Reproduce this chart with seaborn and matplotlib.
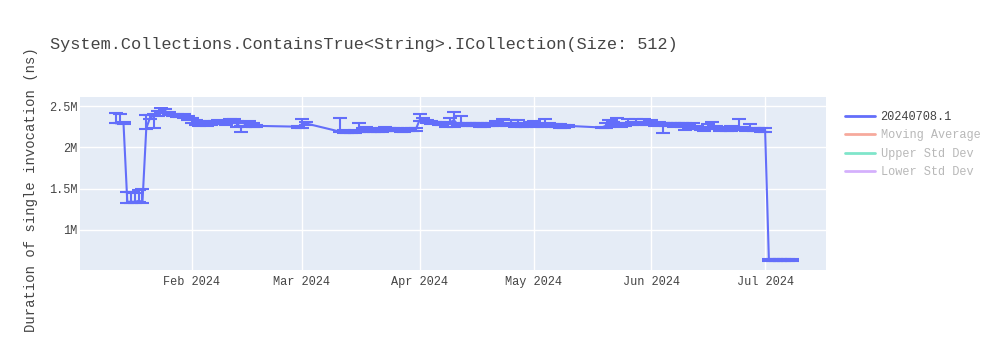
import numpy as np
import pandas as pd
import matplotlib
matplotlib.use("Agg")
import matplotlib.pyplot as plt
import matplotlib.dates as mdates
from matplotlib.ticker import FixedLocator
from matplotlib.lines import Line2D
import seaborn as sns

# ---------------- data (values in millions of ns) ----------------
jan_days = [12, 13, 14, 15, 16, 17, 18, 19, 20, 21, 22, 23, 24, 25, 26, 27, 28, 29, 30, 31]
feb_days = [1, 2, 3, 4, 5, 6, 7, 8, 9, 10, 11, 12, 13, 14, 15, 16, 17, 18, 29]
mar_days = [1, 2, 11, 12, 13, 14, 15, 16, 17, 18, 19, 20, 21, 22, 23, 24, 25, 26, 27, 28, 29, 30, 31]
apr_days = [1, 2, 3, 4, 5, 6, 7, 8, 9, 10, 11, 12, 13, 14, 15, 16, 17, 18, 19, 20, 21, 22, 23, 24, 25, 26, 27, 28, 29, 30]
may_days = [1, 2, 3, 4, 5, 6, 7, 8, 9, 10, 19, 20, 21, 22, 23, 24, 25, 26, 27, 28, 29, 30, 31]
jun_days = [1, 2, 3, 4, 5, 6, 7, 8, 9, 10, 11, 12, 13, 14, 15, 16, 17, 18, 19, 20, 21, 22, 23, 24, 25, 26, 27, 28, 29, 30]
jul_days = [1, 2, 3, 4, 5, 6, 7, 8]

jan_vals = [2.29, 2.30, 2.29, 1.34, 1.34, 1.34, 1.35, 1.34, 2.23, 2.36, 2.38, 2.40, 2.44, 2.44, 2.41, 2.39, 2.38, 2.38, 2.38, 2.36]
feb_vals = [2.33, 2.30, 2.28, 2.29, 2.28, 2.29, 2.30, 2.31, 2.30, 2.29, 2.32, 2.32, 2.28, 2.24, 2.27, 2.28, 2.27, 2.26, 2.25]
mar_vals = [2.28, 2.29, 2.19, 2.19, 2.18, 2.18, 2.19, 2.20, 2.21, 2.23, 2.22, 2.20, 2.19, 2.21, 2.22, 2.21, 2.22, 2.21, 2.20, 2.20, 2.21, 2.22, 2.22]
apr_vals = [2.33, 2.34, 2.31, 2.30, 2.30, 2.29, 2.29, 2.27, 2.30, 2.33, 2.28, 2.30, 2.27, 2.28, 2.28, 2.28, 2.27, 2.26, 2.28, 2.28, 2.29, 2.28, 2.29, 2.28, 2.29, 2.28, 2.29, 2.27, 2.26, 2.28]
may_vals = [2.29, 2.27, 2.26, 2.27, 2.28, 2.26, 2.26, 2.26, 2.25, 2.26, 2.24, 2.26, 2.27, 2.29, 2.30, 2.27, 2.28, 2.30, 2.29, 2.31, 2.29, 2.30, 2.29]
jun_vals = [2.30, 2.28, 2.29, 2.27, 2.28, 2.28, 2.27, 2.28, 2.27, 2.26, 2.25, 2.24, 2.24, 2.23, 2.22, 2.24, 2.25, 2.24, 2.22, 2.23, 2.22, 2.22, 2.23, 2.24, 2.23, 2.22, 2.23, 2.22, 2.22, 2.21]
jul_vals = [2.21, 0.63, 0.63, 0.63, 0.63, 0.63, 0.63, 0.63]

jan_lo = [0.00, 0.01, 0.01, 0.01, 0.01, 0.01, 0.01, 0.02, 0.01, 0.02, 0.14, 0.02, 0.02, 0.02, 0.02, 0.01, 0.01, 0.01, 0.02, 0.03]
feb_lo = [0.03, 0.03, 0.02, 0.02, 0.02, 0.02, 0.02, 0.02, 0.02, 0.02, 0.02, 0.03, 0.03, 0.06, 0.02, 0.02, 0.02, 0.01, 0.01]
mar_lo = [0.04, 0.02, 0.01, 0.02, 0.01, 0.01, 0.02, 0.02, 0.02, 0.02, 0.04, 0.02, 0.01, 0.02, 0.02, 0.01, 0.02, 0.01, 0.01, 0.01, 0.01, 0.02, 0.02]
apr_lo = [0.01, 0.02, 0.02, 0.02, 0.01, 0.02, 0.02, 0.02, 0.02, 0.08, 0.02, 0.02, 0.01, 0.02, 0.02, 0.02, 0.02, 0.01, 0.02, 0.02, 0.02, 0.02, 0.02, 0.02, 0.02, 0.03, 0.02, 0.02, 0.01, 0.02]
may_lo = [0.02, 0.02, 0.01, 0.01, 0.02, 0.01, 0.01, 0.02, 0.01, 0.01, 0.01, 0.02, 0.02, 0.02, 0.02, 0.02, 0.02, 0.02, 0.02, 0.02, 0.02, 0.02, 0.02]
jun_lo = [0.02, 0.02, 0.02, 0.10, 0.02, 0.02, 0.02, 0.02, 0.02, 0.05, 0.02, 0.02, 0.02, 0.02, 0.02, 0.02, 0.02, 0.02, 0.02, 0.02, 0.02, 0.02, 0.02, 0.02, 0.02, 0.02, 0.02, 0.02, 0.02, 0.02]
jul_lo = [0.02, 0.01, 0.01, 0.01, 0.01, 0.01, 0.01, 0.01]

jan_hi = [0.12, 0.10, 0.02, 0.12, 0.12, 0.10, 0.13, 0.15, 0.16, 0.03, 0.02, 0.04, 0.04, 0.03, 0.02, 0.01, 0.02, 0.01, 0.02, 0.02]
feb_hi = [0.03, 0.03, 0.03, 0.03, 0.02, 0.03, 0.02, 0.02, 0.02, 0.02, 0.02, 0.02, 0.04, 0.02, 0.03, 0.04, 0.02, 0.01, 0.01]
mar_hi = [0.06, 0.02, 0.16, 0.02, 0.02, 0.02, 0.02, 0.09, 0.03, 0.02, 0.02, 0.02, 0.02, 0.02, 0.03, 0.02, 0.02, 0.02, 0.02, 0.02, 0.02, 0.02, 0.02]
apr_hi = [0.07, 0.02, 0.02, 0.02, 0.01, 0.02, 0.02, 0.02, 0.05, 0.10, 0.02, 0.08, 0.02, 0.02, 0.02, 0.02, 0.02, 0.02, 0.02, 0.02, 0.03, 0.02, 0.05, 0.02, 0.04, 0.02, 0.04, 0.02, 0.02, 0.03]
may_hi = [0.03, 0.02, 0.02, 0.07, 0.02, 0.02, 0.02, 0.02, 0.02, 0.01, 0.01, 0.04, 0.06, 0.02, 0.05, 0.02, 0.02, 0.04, 0.02, 0.03, 0.02, 0.04, 0.02]
jun_hi = [0.03, 0.02, 0.02, 0.02, 0.02, 0.02, 0.02, 0.02, 0.02, 0.03, 0.02, 0.05, 0.02, 0.02, 0.02, 0.04, 0.06, 0.02, 0.02, 0.02, 0.02, 0.04, 0.02, 0.10, 0.02, 0.02, 0.05, 0.02, 0.02, 0.02]
jul_hi = [0.02, 0.01, 0.01, 0.01, 0.01, 0.01, 0.01, 0.01]

title = "System.Collections.ContainsTrue<String>.ICollection(Size: 512)"
y_label = "Duration of single invocation (ns)"
series_name = "20240708.1"
hidden_series = ["Moving Average", "Upper Std Dev", "Lower Std Dev"]
y_ticks = [1.0e6, 1.5e6, 2.0e6, 2.5e6]
y_tick_labels = ["1M", "1.5M", "2M", "2.5M"]

# ---------------- build table ----------------
months = [(1, jan_days), (2, feb_days), (3, mar_days), (4, apr_days),
          (5, may_days), (6, jun_days), (7, jul_days)]
dates = [pd.Timestamp(2024, m, d) for m, days in months for d in days]
vals = jan_vals + feb_vals + mar_vals + apr_vals + may_vals + jun_vals + jul_vals
lo = jan_lo + feb_lo + mar_lo + apr_lo + may_lo + jun_lo + jul_lo
hi = jan_hi + feb_hi + mar_hi + apr_hi + may_hi + jun_hi + jul_hi
assert len(dates) == len(vals) == len(lo) == len(hi)

df = pd.DataFrame({
    "date": dates,
    "value": np.array(vals) * 1e6,
    "lo": np.array(lo) * 1e6,
    "hi": np.array(hi) * 1e6,
})

# ---------------- style ----------------
sns.set_style("darkgrid", {"axes.facecolor": "#E5ECF6", "grid.color": "white"})
plt.rcParams["font.family"] = ["Liberation Mono", "DejaVu Sans Mono"]

LINE = "#636EFA"
TXT = "#444444"

fig = plt.figure(figsize=(10, 3.5), dpi=100)
ax = fig.add_axes([0.080, 1 - 270 / 350, 0.746, (270 - 97) / 350])

sns.lineplot(data=df, x="date", y="value", color=LINE, linewidth=1.5,
             estimator=None, legend=False, ax=ax, zorder=3)
ax.errorbar(df["date"], df["value"], yerr=[df["lo"], df["hi"]], fmt="none",
            ecolor=LINE, elinewidth=1.5, capsize=5, capthick=1.5, zorder=3)

ax.set_xlim(pd.Timestamp("2024-01-02 13:00"), pd.Timestamp("2024-07-17 01:00"))
ax.set_ylim(0.512e6, 2.61e6)

ax.xaxis.set_major_locator(mdates.MonthLocator(bymonth=[2, 3, 4, 5, 6, 7], bymonthday=1))
ax.xaxis.set_major_formatter(mdates.DateFormatter("%b %Y"))
ax.yaxis.set_major_locator(FixedLocator(y_ticks))
ax.set_yticklabels(y_tick_labels)

ax.grid(True, color="white", linewidth=1)
ax.tick_params(axis="both", length=0, labelsize=8.6, colors=TXT)
ax.tick_params(axis="x", pad=4)
ax.tick_params(axis="y", pad=2)
ax.set_xlabel("")
ax.set_ylabel("")
for s in ax.spines.values():
    s.set_visible(False)

fig.text(0.050, 1 - 45 / 350, title, fontsize=12.2, color=TXT, va="center", ha="left")
fig.text(0.031, 1 - 190 / 350, y_label, fontsize=10, color=TXT, rotation=90,
         va="center", ha="center")

handles = [Line2D([0], [0], color=LINE, lw=2)]
hidden_colors = ["#EF553B", "#00CC96", "#AB63FA"]
for c in hidden_colors:
    handles.append(Line2D([0], [0], color=c, lw=2, alpha=0.5))
leg = fig.legend(handles, [series_name] + hidden_series, loc="upper left",
                 bbox_to_anchor=(0.840, 1 - 106 / 350), frameon=False,
                 fontsize=8.6, handlelength=2.5, handletextpad=0.5,
                 labelspacing=0.55, borderaxespad=0)
for i, t in enumerate(leg.get_texts()):
    t.set_color(TXT if i == 0 else "#B8B8B8")

fig.savefig("out.png", dpi=100)
